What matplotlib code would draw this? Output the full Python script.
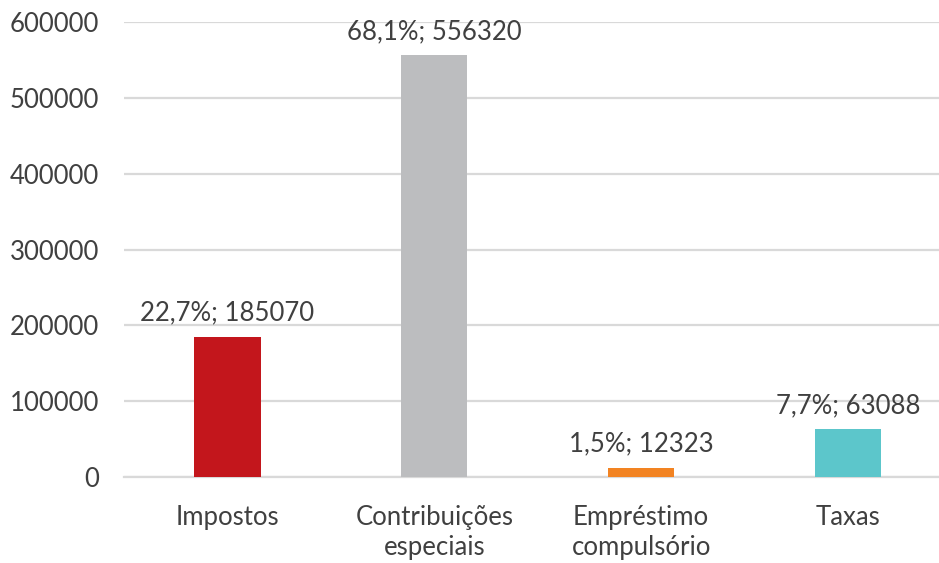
import matplotlib
matplotlib.use("Agg")
import matplotlib.pyplot as plt

categorias = ["Impostos", "Contribuições\nespeciais", "Empréstimo\ncompulsório", "Taxas"]
valores = [185070, 556320, 12323, 63088]
cores = ["#C3161C", "#BCBDBF", "#F28322", "#5CC6CB"]
yticks = [0, 100000, 200000, 300000, 400000, 500000, 600000]

total = sum(valores)
rotulos = [f"{v / total * 100:.1f}".replace(".", ",") + f"%; {v}" for v in valores]

plt.rcParams["font.family"] = ["Lato", "DejaVu Sans"]
texto = "#404040"
fs = 18.5

fig = plt.figure(figsize=(9.39, 5.63), dpi=100)
ax = fig.add_axes([124 / 939, (563 - 477) / 563, 1 - 124 / 939, (477 - 22) / 563])

x = range(len(categorias))
barras = ax.bar(x, valores, width=0.32, color=cores, zorder=3)

for b, r in zip(barras, rotulos):
    ax.annotate(r, (b.get_x() + b.get_width() / 2, b.get_height()),
                xytext=(0, 8), textcoords="offset points",
                ha="center", va="bottom", fontsize=fs, color=texto,
                annotation_clip=False)

ax.set_xlim(-0.5, 3.44)
ax.set_ylim(0, 600000)
ax.set_yticks(yticks)
ax.set_yticklabels([str(t) for t in yticks])
ax.set_xticks(list(x))
ax.set_xticklabels(categorias, linespacing=1.25)

ax.grid(axis="y", color="#D9D9D9", linewidth=1.6, zorder=0)
for s in ["left", "top", "right"]:
    ax.spines[s].set_visible(False)
ax.spines["bottom"].set_color("#D9D9D9")
ax.spines["bottom"].set_linewidth(1.6)

ax.tick_params(axis="y", length=0, pad=18, labelsize=fs, labelcolor=texto)
ax.tick_params(axis="x", length=0, pad=20, labelsize=fs, labelcolor=texto)

fig.savefig("out.png", dpi=100)
